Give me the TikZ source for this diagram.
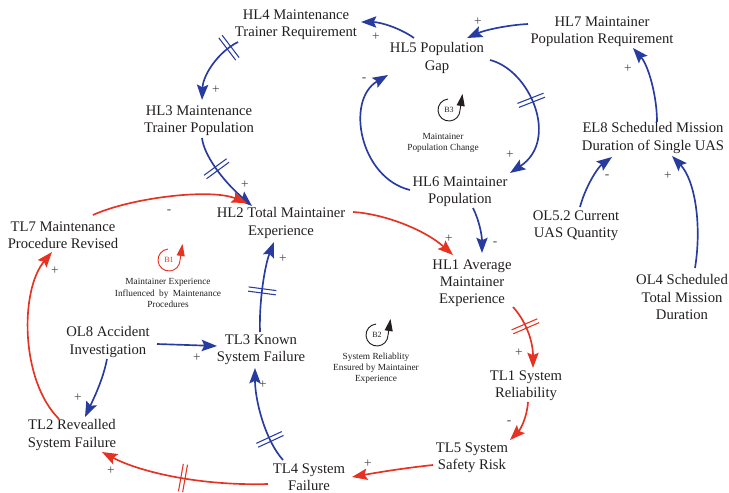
\documentclass[tikz,border=0pt]{standalone}
\usepackage{fontspec}
\setmainfont{Liberation Serif}
\usetikzlibrary{arrows.meta,decorations.markings}
\definecolor{cldblue}{RGB}{40,60,160}
\definecolor{cldred}{RGB}{230,50,35}
\definecolor{ink}{RGB}{35,31,32}
\definecolor{signgray}{RGB}{70,70,70}

\tikzset{
  varnode/.style={align=center, font=\fontsize{11}{12.8}\selectfont, text=ink, inner sep=0pt},
  signnode/.style={font=\fontsize{10}{10}\selectfont, text=signgray, inner sep=0pt},
  looptext/.style={align=center, font=\fontsize{7}{8.3}\selectfont, text=ink, inner sep=0pt},
  link/.style={line width=1.25pt, -{Stealth[length=11.5pt,width=8.5pt,inset=2pt]}},
  blink/.style={link, color=cldblue},
  rlink/.style={link, color=cldred},
  delaymark/.style={postaction={decorate, decoration={markings,
      mark=at position #1 with {\draw[-, line width=0.8pt]
        (-1.6pt,-10.5pt) -- (-1.6pt,10.5pt) (1.6pt,-10.5pt) -- (1.6pt,10.5pt);}}}},
  loopsym/.pic={
    \begin{scope}[yscale=-1]
      \draw[line width=0.7pt] (95:11) arc[start angle=95, end angle=358, radius=11];
      \draw[line width=0.7pt, -{Triangle[length=9pt,width=6pt]}] (358:11) -- (13.5,16);
      \node[font=\fontsize{6}{6}\selectfont, inner sep=0pt] at (0,0) {\tikzpictext};
    \end{scope}
  }
}

\begin{document}
\begin{tikzpicture}[x=0.75pt, y=-0.75pt]
\useasboundingbox (0,0) rectangle (729,493);

% variables
\node[varnode] (HL4)  at (296,25)  {HL4 Maintenance\\Trainer Requirement};
\node[varnode] (HL7)  at (602,32)  {HL7 Maintainer\\Population Requirement};
\node[varnode] (HL5)  at (437,58)  {HL5 Population\\Gap};
\node[varnode] (HL3)  at (199,121) {HL3 Maintenance\\Trainer Population};
\node[varnode] (EL8)  at (653,138) {EL8 Scheduled Mission\\Duration of Single UAS};
\node[varnode] (HL6)  at (460,192) {HL6 Maintainer\\Population};
\node[varnode] (HL2)  at (281,223) {HL2 Total Maintainer\\Experience};
\node[varnode] (TL7)  at (63,235)  {TL7 Maintenance\\Procedure Revised};
\node[varnode] (OL52) at (576,226) {OL5.2 Current\\UAS Quantity};
\node[varnode] (HL1)  at (472,283) {HL1 Average\\Maintainer\\Experience};
\node[varnode] (OL4)  at (682,297) {OL4 Scheduled\\Total Mission\\Duration};
\node[varnode] (OL8)  at (108,342) {OL8 Accident\\Investigation};
\node[varnode] (TL3)  at (261,350) {TL3 Known\\System Failure};
\node[varnode] (TL1)  at (526,386) {TL1 System\\Reliability};
\node[varnode] (TL2)  at (72,435)  {TL2 Revealled\\System Failure};
\node[varnode] (TL5)  at (472,458) {TL5 System\\Safety Risk};
\node[varnode] (TL4)  at (309,477) {TL4 System\\Failure};

% causal links
\draw[blink] ([shift={(-74,-8)}]HL7.center) .. controls (508,25) and (485,30) .. ([shift={(30,-20)}]HL5.center);
\draw[blink] ([shift={(-23,-20)}]HL5.center) .. controls (400,28) and (380,22) .. ([shift={(65,-3)}]HL4.center);
\draw[blink, delaymark=0.15] ([shift={(-58,17)}]HL4.center) .. controls (218,52) and (203,75) .. ([shift={(3,-21)}]HL3.center);
\draw[blink, delaymark=0.4] ([shift={(3,17)}]HL3.center) .. controls (204,155) and (222,180) .. ([shift={(-29,-17)}]HL2.center);
\draw[rlink] ([shift={(30,-20)}]TL7.center) .. controls (130,198) and (210,188) .. ([shift={(-34,-20)}]HL2.center);
\draw[rlink] ([shift={(72,-11)}]HL2.center) .. controls (385,214) and (425,230) .. ([shift={(-19,-28)}]HL1.center);
\draw[blink] ([shift={(13,16)}]HL6.center) .. controls (479,220) and (482,235) .. ([shift={(10,-30)}]HL1.center);
\draw[blink, delaymark=0.42] ([shift={(53,2)}]HL5.center) .. controls (530,70) and (560,140) .. ([shift={(50,-19)}]HL6.center);
\draw[blink] ([shift={(-50,-2)}]HL6.center) .. controls (360,178) and (345,100) .. ([shift={(-49,17)}]HL5.center);
\draw[blink] ([shift={(4,-16)}]EL8.center) .. controls (657,95) and (648,65) .. ([shift={(31,16)}]HL7.center);
\draw[blink] ([shift={(4,-19)}]OL52.center) .. controls (585,188) and (597,168) .. ([shift={(-41,19)}]EL8.center);
\draw[blink] ([shift={(13,-29)}]OL4.center) .. controls (702,225) and (695,180) .. ([shift={(19,18)}]EL8.center);
\draw[rlink, delaymark=0.35] ([shift={(41,24)}]HL1.center) .. controls (525,320) and (533,340) .. ([shift={(7,-18)}]TL1.center);
\draw[rlink] ([shift={(2,16)}]TL1.center) .. controls (527,418) and (520,430) .. ([shift={(38,-18)}]TL5.center);
\draw[rlink] ([shift={(-39,7)}]TL5.center) .. controls (405,468) and (380,472) .. ([shift={(43,0)}]TL4.center);
\draw[rlink, delaymark=0.5] ([shift={(-41,7)}]TL4.center) .. controls (200,486) and (140,472) .. ([shift={(30,17)}]TL2.center);
\draw[blink, delaymark=0.25] ([shift={(-26,-17)}]TL4.center) .. controls (265,440) and (255,400) .. ([shift={(-6,18)}]TL3.center);
\draw[blink, delaymark=0.45] ([shift={(-1,-18)}]TL3.center) .. controls (259,300) and (265,265) .. ([shift={(-7,19)}]HL2.center);
\draw[blink] ([shift={(49,2)}]OL8.center) -- ([shift={(-44,-4)}]TL3.center);
\draw[blink] ([shift={(-1,17)}]OL8.center) .. controls (103,380) and (93,400) .. ([shift={(13,-18)}]TL2.center);
\draw[rlink] ([shift={(-13,-16)}]TL2.center) .. controls (20,380) and (20,290) .. ([shift={(-11,17)}]TL7.center);

% link polarities
\node[signnode] (s1)  at (478,22)  {+};
\node[signnode] (s2)  at (376,37)  {+};
\node[signnode] (s3)  at (216,90)  {+};
\node[signnode] (s4)  at (245,185) {+};
\node[signnode] (s5)  at (169,212) {-};
\node[signnode] (s6)  at (449,239) {+};
\node[signnode] (s7)  at (495,244) {-};
\node[signnode] (s8)  at (510,155) {+};
\node[signnode] (s9)  at (364,80)  {-};
\node[signnode] (s10) at (628,69)  {+};
\node[signnode] (s11) at (607,177) {-};
\node[signnode] (s12) at (668,176) {+};
\node[signnode] (s13) at (519,353) {+};
\node[signnode] (s14) at (509,423) {-};
\node[signnode] (s15) at (368,464) {+};
\node[signnode] (s16) at (111,471) {+};
\node[signnode] (s17) at (263,385) {+};
\node[signnode] (s18) at (283,259) {+};
\node[signnode] (s19) at (197,358) {+};
\node[signnode] (s20) at (78,398)  {+};
\node[signnode] (s21) at (55,271)  {+};

% feedback loops
\pic[color=ink, pic text=B3] (B3) at (449,110) {loopsym};
\node[looptext] (B3txt) at (443,143) {Maintainer\\Population Change};
\pic[color=cldred, pic text=B1] (B1) at (169,260) {loopsym};
\node[looptext] (B1txt) at (168,293) {Maintainer Experience\\Influenced\hspace{1.5pt} by\hspace{1.5pt} Maintenance\\Procedures};
\pic[color=ink, pic text=B2] (B2) at (377,335) {loopsym};
\node[looptext] (B2txt) at (376,368) {System Reliablity\\Ensured by Maintainer\\Experience};
\end{tikzpicture}
\end{document}
